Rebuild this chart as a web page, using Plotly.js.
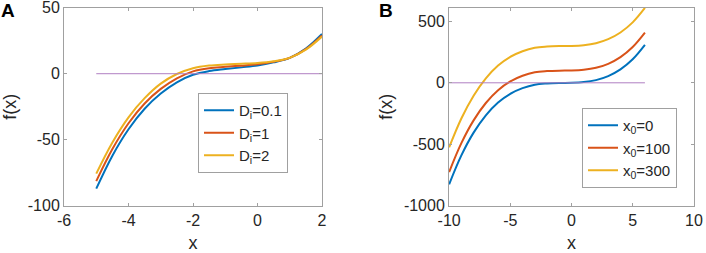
<!DOCTYPE html>
<html>
<head>
<meta charset="utf-8">
<script src="https://cdn.plot.ly/plotly-3.0.1.min.js"></script>
<style>html,body{margin:0;padding:0;background:#fff;}#chart{width:706px;height:253px;}</style>
</head>
<body>
<div id="chart"></div>
<script>
// ---- Panel A data ----
const xA = [-5, -4.5, -4, -3.5, -3, -2.5, -2, -1.5, -1, -0.5, 0, 0.5, 1, 1.5, 2];
const yA_D01 = [-87, -62, -42, -26.5, -15, -6.5, -0.8, 2, 3.5, 4.8, 6.2, 8.6, 12, 19, 30];
const yA_D1  = [-81.3, -57, -37.5, -22.5, -11.5, -3.5, 1.8, 4.2, 5.2, 6.1, 7.2, 9.0, 12, 18.6, 29];
const yA_D2  = [-75.6, -52, -33, -18.5, -7.5, -0.2, 4.2, 6.2, 7.0, 7.5, 8.1, 9.4, 12, 18.2, 28.1];
const zeroA_x = [-5, 2];
const zeroA_y = [0, 0];
const namesA = ["D<sub>i</sub>=0.1", "D<sub>i</sub>=1", "D<sub>i</sub>=2"];
const xTicksA = [-6, -4, -2, 0, 2];
const xTickTextA = ["-6", "-4", "-2", "0", "2"];
const yTicksA = [-100, -50, 0, 50];
const yTickTextA = ["-100", "-50", "0", "50"];

// ---- Panel B data ----
const xB = [-10, -9, -8, -7, -6, -5, -4, -3, -2, -1, 0, 1, 2, 3, 4, 5, 6];
const yB_x0_0   = [-825, -590, -405, -264, -160, -89, -43, -15, -5, -1, 0, 6, 22, 54.5, 109, 191, 308];
const yB_x0_100 = [-725, -490, -305, -164, -60, 11, 57, 85, 95, 99, 100, 106, 122, 154.5, 209, 291, 408];
const yB_x0_300 = [-525, -290, -105, 36, 140, 211, 257, 285, 295, 299, 300, 306, 322, 354.5, 409, 491, 608];
const zeroB_x = [-10, 6];
const zeroB_y = [0, 0];
const namesB = ["x<sub>0</sub>=0", "x<sub>0</sub>=100", "x<sub>0</sub>=300"];
const xTicksB = [-10, -5, 0, 5, 10];
const xTickTextB = ["-10", "-5", "0", "5", "10"];
const yTicksB = [-1000, -500, 0, 500];
const yTickTextB = ["-1000", "-500", "0", "500"];

const colors = ["#0072BD", "#D95319", "#EDB120"];
const zeroColor = "#b07fc2";
const font = "Liberation Sans, Arial, Helvetica, sans-serif";
const axisCol = "#a0a0a0";
const textCol = "#262626";

const traces = [];
[yA_D01, yA_D1, yA_D2].forEach((ys, i) => traces.push({
  x: xA, y: ys, type: "scatter", mode: "lines", name: namesA[i],
  line: {color: colors[i], width: 2, shape: "spline", smoothing: 1},
  xaxis: "x", yaxis: "y", legend: "legend"
}));
traces.push({x: zeroA_x, y: zeroA_y, type: "scatter", mode: "lines", showlegend: false,
  line: {color: zeroColor, width: 1}, xaxis: "x", yaxis: "y", hoverinfo: "skip"});
[yB_x0_0, yB_x0_100, yB_x0_300].forEach((ys, i) => traces.push({
  x: xB, y: ys, type: "scatter", mode: "lines", name: namesB[i],
  line: {color: colors[i], width: 2, shape: "spline", smoothing: 1},
  xaxis: "x2", yaxis: "y2", legend: "legend2"
}));
traces.push({x: zeroB_x, y: zeroB_y, type: "scatter", mode: "lines", showlegend: false,
  line: {color: zeroColor, width: 1}, xaxis: "x2", yaxis: "y2", hoverinfo: "skip"});

const W = 706, H = 253;
const yDom = [1 - 206 / H, 1 - 7.5 / H];
function ax(extra) {
  return Object.assign({
    showline: true, mirror: "ticks", linecolor: axisCol, linewidth: 1,
    ticks: "inside", ticklen: 3, tickcolor: axisCol, showgrid: false, zeroline: false,
    tickmode: "array", tickfont: {family: font, size: 16, color: textCol},
    ticklabeloverflow: "allow", fixedrange: true
  }, extra);
}
const titleFont = {family: font, size: 18, color: textCol};
const legendBase = {
  xanchor: "left", yanchor: "top", bgcolor: "#ffffff", bordercolor: axisCol, borderwidth: 1,
  font: {family: font, size: 15, color: textCol}, itemwidth: 30, tracegroupgap: 0
};

const layout = {
  width: W, height: H, margin: {l: 0, r: 0, t: 0, b: 0},
  paper_bgcolor: "#ffffff", plot_bgcolor: "#ffffff", showlegend: true,
  xaxis: ax({domain: [64 / W, 322 / W], range: [-6.001, 2.001], tickvals: xTicksA, ticktext: xTickTextA, anchor: "y",
    title: {text: "x", font: titleFont, standoff: 8}}),
  yaxis: ax({domain: yDom, range: [-100.1, 50.1], tickvals: yTicksA, ticktext: yTickTextA, anchor: "x",
    title: {text: "f(x)", font: titleFont, standoff: 6}}),
  xaxis2: ax({domain: [449 / W, 694 / W], range: [-10.01, 10.01], tickvals: xTicksB, ticktext: xTickTextB, anchor: "y2",
    title: {text: "x", font: titleFont, standoff: 8}}),
  yaxis2: ax({domain: yDom, range: [-1001, 612], tickvals: yTicksB, ticktext: yTickTextB, anchor: "x2",
    title: {text: "f(x)", font: titleFont, standoff: 6}}),
  legend: Object.assign({}, legendBase, {x: 198 / W, y: 1 - 93 / H}),
  legend2: Object.assign({}, legendBase, {x: 582 / W, y: 1 - 108 / H}),
  annotations: [
    {text: "<b>A</b>", x: 0, y: 1, xref: "paper", yref: "paper", xanchor: "left", yanchor: "top",
      showarrow: false, font: {family: font, size: 19, color: "#000"}, xshift: -1, yshift: 2},
    {text: "<b>B</b>", x: 377 / W, y: 1, xref: "paper", yref: "paper", xanchor: "left", yanchor: "top",
      showarrow: false, font: {family: font, size: 19, color: "#000"}, yshift: 2}
  ]
};

Plotly.newPlot("chart", traces, layout, {displayModeBar: false, staticPlot: true});
</script>
</body>
</html>
